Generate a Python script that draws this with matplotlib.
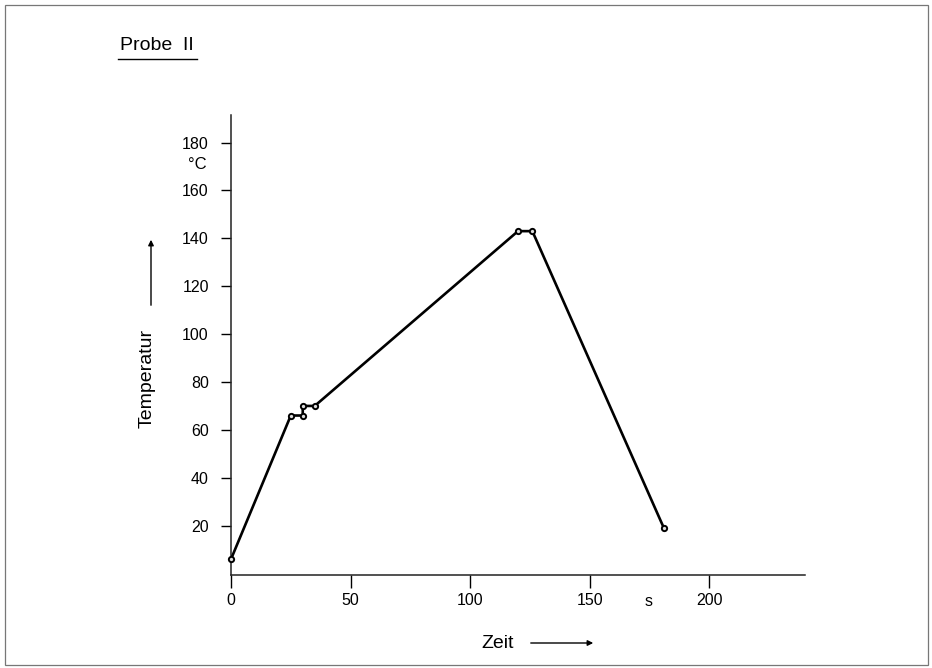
import matplotlib
matplotlib.use("Agg")
import matplotlib.pyplot as plt
from matplotlib.patches import Rectangle, FancyArrowPatch

plt.rcParams['font.family'] = ['Liberation Sans', 'DejaVu Sans']

# Data (Zeit in s, Temperatur in °C)
zeit = [0, 25, 30, 30, 35, 120, 126, 181]
temperatur = [6, 66, 66, 70, 70, 143, 143, 19]
x_ticks = [0, 50, 100, 150, 200]
y_ticks = [20, 40, 60, 80, 100, 120, 140, 160, 180]

W, H = 932, 668
fig = plt.figure(figsize=(W / 100, H / 100), dpi=100)
fig.patch.set_facecolor('white')

def fx(px):
    return px / W

def fy(py):
    return 1 - py / H

ax = fig.add_axes([fx(231), fy(575), fx(805) - fx(231), fy(115) - fy(575)])
ax.plot(zeit, temperatur, color='black', lw=1.9, marker='o', ms=3.8,
        mfc='#dddddd', mec='black', mew=1.4, clip_on=False, zorder=3)
ax.set_xlim(0, 240)
ax.set_ylim(-0.6, 191.5)
ax.set_xticks(x_ticks)
ax.set_yticks(y_ticks)
ax.spines['top'].set_visible(False)
ax.spines['right'].set_visible(False)
for s in ('left', 'bottom'):
    ax.spines[s].set_linewidth(1.1)
    ax.spines[s].set_color('#222222')
ax.tick_params(axis='y', direction='out', length=7, width=1.0, pad=9, labelsize=11.5)
ax.tick_params(axis='x', direction='out', length=9, width=1.0, pad=4, labelsize=11.5)

# Units
fig.text(fx(197), fy(164), '°C', ha='center', va='center', fontsize=12)
fig.text(fx(649), fy(601), 's', ha='center', va='center', fontsize=11.5)

# Axis labels with arrows
fig.text(fx(147), fy(378), 'Temperatur', rotation=90, ha='center', va='center', fontsize=14)
fig.add_artist(FancyArrowPatch(
    (fx(151), fy(308)), (fx(151), fy(237)), transform=fig.transFigure,
    arrowstyle='-|>', mutation_scale=8, lw=1.0, color='black'))
fig.text(fx(498), fy(643), 'Zeit', ha='center', va='center', fontsize=14)
fig.add_artist(FancyArrowPatch(
    (fx(528), fy(643)), (fx(596), fy(643)), transform=fig.transFigure,
    arrowstyle='-|>', mutation_scale=8, lw=1.0, color='black'))

# Title with underline
fig.text(fx(120), fy(46), 'Probe  II', ha='left', va='center', fontsize=14)
fig.add_artist(plt.Line2D([fx(118), fx(197)], [fy(59), fy(59)],
                          transform=fig.transFigure, color='black', lw=1.0))

# Page frame
fig.add_artist(Rectangle((fx(5), fy(665)), fx(928) - fx(5), fy(5) - fy(665),
                         transform=fig.transFigure, fill=False,
                         edgecolor='#777777', lw=0.9))

fig.savefig('out.png', dpi=100)
